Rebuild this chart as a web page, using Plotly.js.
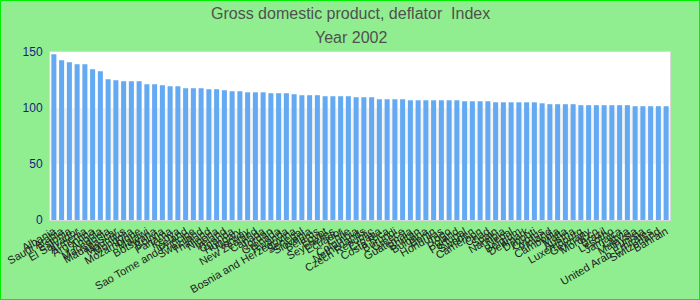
<!DOCTYPE html>
<html>
<head>
<meta charset="utf-8">
<script src="https://cdn.plot.ly/plotly-3.0.1.min.js"></script>
<style>
html,body{margin:0;padding:0;background:#90ee90;}
#wrap{width:700px;height:300px;box-sizing:border-box;border:1px solid #00ee00;background:#90ee90;}
#chart{width:698px;height:298px;}
</style>
</head>
<body>
<div id="wrap"><div id="chart"></div></div>
<script>
const countries = [
"Albania","Saudi Arabia","Estonia","El Salvador","Armenia","Argentina","Angola","Macedonia",
"Madagascar","Mauritius","Mongolia","Mozambique","Malawi","Botswana","Bolivia","Panama",
"Kenya","Iceland","Sao Tome and Principe","Swaziland","Thailand","Nigeria","Ireland","Uganda",
"Hungary","Norway","New Zealand","Canada","Jordan","Grenada","Rwanda","Bosnia and Herzegovina",
"Senegal","Slovenia","Belarus","Egypt","Seychelles","Ecuador","Chile","Colombia",
"Netherlands","Czech Republic","Croatia","Costa Rica","Burundi","Greece","Guatemala","Bhutan",
"Bulgaria","Benin","Honduras","Togo","Poland","Portugal","Sweden","Cameroon",
"Chad","Spain","Namibia","Nepal","Belgium","Denmark","Djibouti","Cyprus",
"Finland","Cambodia","Malta","Austria","Luxembourg","Germany","Morocco","Brazil",
"Lesotho","Jamaica","Latvia","Malaysia","Tunisia","United Arab Emirates","Switzerland","Bahrain"
];
const deflator = [
148.0,142.6,140.8,139.0,139.0,134.5,132.8,125.6,
124.7,123.8,123.8,123.8,121.2,121.2,120.3,119.4,
119.4,117.6,117.6,117.6,116.7,116.7,115.8,114.9,
114.9,114.0,114.0,114.0,113.2,113.2,113.2,112.3,
111.4,111.4,111.4,110.5,110.5,110.5,110.5,109.6,
109.6,109.6,107.8,107.8,107.8,107.8,106.9,106.9,
106.9,106.9,106.9,106.9,106.9,106.0,106.0,106.0,
106.0,105.1,105.1,105.1,105.1,105.1,105.1,104.2,
103.4,103.4,103.4,103.4,102.5,102.5,102.5,102.5,
102.5,102.5,102.5,101.6,101.6,101.6,101.6,101.6
];
const yTicks = [0,50,100,150];
const titleLine1 = "Gross domestic product, deflator  Index";
const titleLine2 = "Year 2002";

const trace = {
  type:'bar', x:countries, y:deflator,
  marker:{color:'#63aaf2'}, hoverinfo:'x+y'
};
const layout = {
  width:698, height:298,
  paper_bgcolor:'#90ee90', plot_bgcolor:'#ffffff',
  margin:{l:49,r:29,t:51,b:79},
  bargap:0.35,
  showlegend:false,
  font:{family:'Liberation Sans, Arial, sans-serif'},
  xaxis:{type:'category', tickmode:'array', tickvals:countries, ticktext:countries,
    tickangle:-30, tickfont:{size:11,color:'#222'}, showgrid:false, zeroline:false,
    showline:true, mirror:true, linecolor:'#d8d8d8', linewidth:1, ticks:''},
  yaxis:{range:[0,150], tickmode:'array', tickvals:yTicks, ticktext:yTicks.map(String),
    tickfont:{size:12,color:'#1a1a8c'}, showgrid:false, zeroline:false,
    showline:true, mirror:true, linecolor:'#d8d8d8', linewidth:1, ticks:'', ticklabelstandoff:4},
  shapes:[{type:'rect', xref:'paper', yref:'y', x0:0, x1:1, y0:50, y1:100,
    fillcolor:'#f3f3f3', line:{width:0}, layer:'below'}],
  annotations:[
    {text:titleLine1, xref:'paper', yref:'paper', x:0.485, y:1.232, showarrow:false,
     xanchor:'center', yanchor:'middle', font:{size:16,color:'#505050'}},
    {text:titleLine2, xref:'paper', yref:'paper', x:0.485, y:1.089, showarrow:false,
     xanchor:'center', yanchor:'middle', font:{size:16,color:'#505050'}}
  ]
};
Plotly.newPlot('chart',[trace],layout,{displayModeBar:false,staticPlot:true});
</script>
</body>
</html>
